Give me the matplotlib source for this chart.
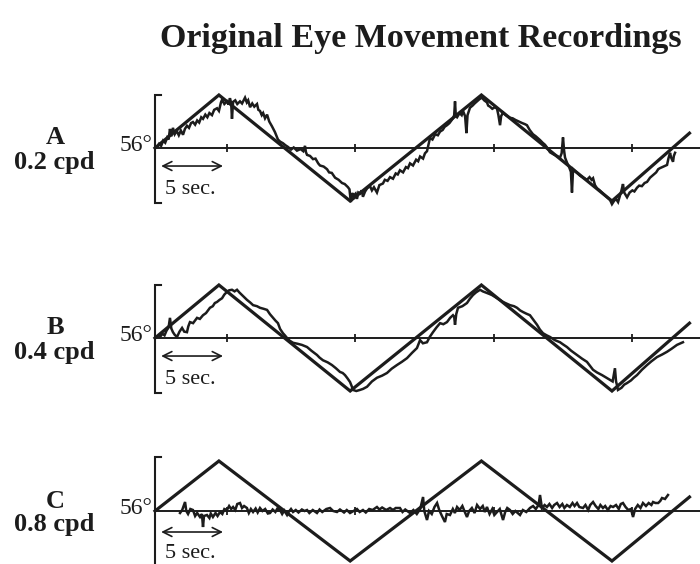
import matplotlib
matplotlib.use("Agg")
import matplotlib.pyplot as plt

plt.rcParams['font.family'] = ['Liberation Serif', 'DejaVu Serif']

INK = '#1c1c1c'

# stimulus (triangle wave), time in seconds, position normalised to stimulus amplitude
stim_t = [0, 4.7, 14.35, 24.0, 33.6, 39.3]
stim_y = [0, 1, -1, 1, -1, 0.28]

tick_t = [5.3, 14.7, 24.9, 35.1]

# eye traces
a_t = [0.15, 0.3, 0.45, 0.6, 0.75, 0.9, 1.0, 1.1, 1.2, 1.32, 1.45, 1.6, 1.75, 1.9,
       2.06, 2.2, 2.35, 2.5, 2.65, 2.79, 2.95, 3.1, 3.25, 3.4, 3.53, 3.7, 3.85, 4.0,
       4.19, 4.35, 4.56, 4.7, 4.85, 4.93, 5.1, 5.29, 5.4, 5.51, 5.6, 5.66, 5.74, 5.9,
       6.05, 6.25, 6.4, 6.62, 6.75, 6.85, 6.99, 7.15, 7.3, 7.5, 7.6, 7.72, 7.85, 7.95,
       8.09, 8.24, 8.4, 8.6, 8.72, 8.82, 8.95, 9.04, 9.2, 9.41, 9.6, 9.78, 10.0, 10.2,
       10.44, 10.7, 10.9, 11.03, 11.1, 11.18, 11.4, 11.62, 11.8, 12.0, 12.13, 12.4,
       12.65, 12.8, 13.0, 13.24, 13.5, 13.75, 13.95, 14.19, 14.3, 14.4, 14.5, 14.6,
       14.75, 14.85, 14.95, 15.07, 15.2, 15.29, 15.45, 15.6, 15.81, 15.95, 16.1, 16.32,
       16.5, 16.76, 16.9, 17.1, 17.28, 17.5, 17.7, 17.85, 18.01, 18.24, 18.45, 18.6,
       18.75, 18.97, 19.2, 19.35, 19.49, 19.71, 19.85, 20.0, 20.1, 20.22, 20.4, 20.6,
       20.8, 20.96, 21.15, 21.3, 21.47, 21.65, 21.8, 21.91, 22.0, 22.06, 22.12, 22.21,
       22.4, 22.55, 22.65, 22.8, 22.9, 22.98, 23.16, 23.35, 23.5, 23.68, 23.85, 24.04,
       24.2, 24.41, 24.5, 24.63, 24.8, 25.0, 25.15, 25.25, 25.37, 25.45, 25.59, 25.8,
       26.1, 26.3, 26.5, 26.84, 27.0, 27.2, 27.35, 27.55, 27.79, 28.0, 28.31, 28.5,
       28.68, 28.85, 29.04, 29.3, 29.55, 29.78, 29.9, 30.0, 30.08, 30.15, 30.3, 30.45,
       30.58, 30.66, 30.74, 30.9, 31.1, 31.25, 31.5, 31.76, 31.95, 32.1, 32.21, 32.35,
       32.5, 32.7, 32.94, 33.2, 33.46, 33.6, 33.75, 33.9, 34.05, 34.19, 34.3, 34.41,
       34.5, 34.71, 34.9, 35.1, 35.25, 35.44, 35.6, 35.8, 36.0, 36.18, 36.4, 36.62,
       36.85, 37.0, 37.13, 37.4, 37.65, 37.75, 37.87, 37.95, 38.09, 38.15, 38.24]
a_y = [0.02, 0.08, 0.04, 0.14, 0.1, 0.2, 0.16, 0.36, 0.22, 0.38, 0.26, 0.32, 0.24, 0.33,
       0.25, 0.36, 0.42, 0.38, 0.47, 0.49, 0.44, 0.52, 0.48, 0.58, 0.55, 0.63, 0.58, 0.66,
       0.62, 0.72, 0.75, 0.7, 0.86, 0.91, 0.83, 0.88, 0.82, 0.94, 0.85, 0.55, 0.87, 0.9,
       0.83, 0.88, 0.84, 0.95, 0.86, 0.9, 0.77, 0.84, 0.78, 0.83, 0.72, 0.7, 0.62, 0.66,
       0.56, 0.63, 0.5, 0.41, 0.35, 0.3, 0.22, 0.16, 0.12, 0.09, 0.05, 0.02, -0.03, 0.01,
       -0.05, -0.02, -0.06, 0.04, -0.08, -0.13, -0.15, -0.21, -0.2, -0.29, -0.33, -0.35,
       -0.4, -0.46, -0.47, -0.56, -0.6, -0.66, -0.68, -0.74, -0.78, -1.02, -0.85, -0.9,
       -0.86, -0.96, -0.84, -0.86, -0.8, -0.92, -0.82, -0.76, -0.72, -0.8, -0.74, -0.84,
       -0.7, -0.67, -0.6, -0.62, -0.55, -0.58, -0.48, -0.5, -0.42, -0.46, -0.36, -0.38,
       -0.29, -0.33, -0.22, -0.25, -0.16, -0.2, -0.1, -0.06, 0.05, 0.19, 0.16, 0.26,
       0.24, 0.31, 0.34, 0.4, 0.43, 0.47, 0.52, 0.56, 0.62, 0.88, 0.6, 0.58,
       0.66, 0.62, 0.7, 0.6, 0.28, 0.62, 0.76, 0.8, 0.84, 0.88, 0.92, 0.95,
       0.9, 0.86, 0.8, 0.78, 0.74, 0.77, 0.74, 0.62, 0.43, 0.6, 0.67, 0.62,
       0.57, 0.56, 0.53, 0.49, 0.47, 0.45, 0.43, 0.34, 0.26, 0.22, 0.15, 0.1,
       0.06, 0.0, -0.08, -0.12, -0.15, -0.18, -0.1, 0.2, -0.05, -0.18, -0.28, -0.36,
       -0.45, -0.84, -0.4, -0.44, -0.48, -0.52, -0.56, -0.6, -0.55, -0.6, -0.57, -0.7,
       -0.76, -0.8, -0.86, -0.92, -0.98, -1.06, -1.0, -0.96, -1.02, -0.9, -0.8, -0.68,
       -0.84, -0.93, -0.84, -0.8, -0.82, -0.75, -0.71, -0.72, -0.66, -0.64, -0.56, -0.51,
       -0.46, -0.4, -0.38, -0.35, -0.32, -0.2, -0.09, -0.18, -0.26, -0.15, -0.09]

b_t = [0.37, 0.55, 0.7, 0.85, 1.0, 1.10, 1.2, 1.32, 1.45, 1.62, 1.8, 1.99, 2.15, 2.35,
       2.45, 2.57, 2.8, 3.09, 3.3, 3.53, 3.75, 4.04, 4.25, 4.4, 4.56, 4.75, 4.93, 5.1,
       5.29, 5.45, 5.66, 5.85, 6.03, 6.2, 6.40, 6.6, 6.76, 7.0, 7.21, 7.5, 7.72, 8.0,
       8.24, 8.45, 8.68, 8.85, 9.04, 9.2, 9.41, 9.55, 9.71, 9.9, 10.15, 10.5, 10.8,
       11.18, 11.5, 11.91, 12.1, 12.35, 12.7, 13.01, 13.3, 13.60, 13.8, 13.97, 14.15,
       14.34, 14.45, 14.56, 14.8, 15.07, 15.3, 15.59, 15.95, 16.32, 16.7, 17.06, 17.4,
       17.79, 18.15, 18.53, 18.9, 19.26, 19.49, 19.7, 20.0, 20.2, 20.44, 20.7, 20.96,
       21.2, 21.47, 21.7, 21.91, 22.0, 22.06, 22.15, 22.28, 22.6, 22.94, 23.15, 23.38,
       23.6, 23.90, 24.1, 24.41, 24.6, 24.78, 25.15, 25.4, 25.59, 25.85, 26.10, 26.4,
       26.62, 26.85, 27.06, 27.3, 27.57, 27.8, 28.09, 28.3, 28.53, 28.8, 29.04, 29.4,
       29.78, 30.0, 30.29, 30.6, 31.03, 31.4, 31.76, 32.0, 32.21, 32.5, 32.87, 33.2,
       33.46, 33.65, 33.82, 33.9, 33.97, 34.04, 34.3, 34.5, 34.71, 35.0, 35.2, 35.44,
       35.8, 36.18, 36.5, 36.91, 37.3, 37.65, 38.0, 38.38, 38.82]
b_y = [0.02, 0.08, 0.05, 0.14, 0.2, 0.38, 0.18, 0.11, 0.06, 0.02, 0.12, 0.19, 0.12, 0.11,
       0.22, 0.3, 0.28, 0.38, 0.36, 0.43, 0.47, 0.57, 0.6, 0.66, 0.68, 0.72, 0.75, 0.82,
       0.87, 0.9, 0.91, 0.88, 0.91, 0.86, 0.81, 0.76, 0.72, 0.67, 0.62, 0.6, 0.57, 0.55,
       0.53, 0.45, 0.38, 0.33, 0.28, 0.17, 0.09, 0.05, 0.0, -0.05, -0.09, -0.11, -0.13,
       -0.17, -0.24, -0.32, -0.37, -0.42, -0.46, -0.51, -0.57, -0.64, -0.66, -0.7, -0.76,
       -0.83, -0.9, -0.98, -1.0, -0.98, -0.96, -0.92, -0.82, -0.75, -0.71, -0.66, -0.58,
       -0.51, -0.45, -0.38, -0.28, -0.19, -0.04, -0.1, -0.08, 0.02, 0.11, 0.2, 0.28,
       0.26, 0.3, 0.38, 0.43, 0.4, 0.25, 0.45, 0.57, 0.6, 0.66, 0.74, 0.81,
       0.86, 0.91, 0.88, 0.85, 0.83, 0.81, 0.75, 0.71, 0.68, 0.65, 0.62, 0.6,
       0.57, 0.52, 0.49, 0.46, 0.43, 0.35, 0.25, 0.16, 0.09, 0.05, 0.02, -0.04,
       -0.08, -0.12, -0.17, -0.24, -0.32, -0.39, -0.45, -0.53, -0.6, -0.65, -0.7, -0.75,
       -0.79, -0.82, -0.57, -0.82, -0.89, -0.98, -0.94, -0.88, -0.85, -0.8, -0.75, -0.7,
       -0.6, -0.51, -0.44, -0.36, -0.31, -0.26, -0.2, -0.13, -0.08]

c_t = [1.84, 2.0, 2.21, 2.3, 2.43, 2.6, 2.79, 2.95, 3.1, 3.31, 3.45, 3.53, 3.6, 3.82,
       4.0, 4.1, 4.26, 4.45, 4.6, 4.78, 4.95, 5.1, 5.29, 5.45, 5.6, 5.74, 5.9, 6.05,
       6.25, 6.4, 6.55, 6.76, 6.9, 7.05, 7.21, 7.4, 7.55, 7.72, 7.9, 8.1, 8.3, 8.46,
       8.65, 8.85, 9.0, 9.19, 9.35, 9.5, 9.71, 9.85, 10.0, 10.15, 10.35, 10.55, 10.8,
       11.0, 11.18, 11.35, 11.6, 11.91, 12.1, 12.3, 12.6, 12.87, 13.1, 13.38, 13.6,
       13.9, 14.1, 14.34, 14.6, 14.85, 15.05, 15.29, 15.5, 15.75, 16.0, 16.32, 16.5,
       16.7, 17.0, 17.28, 17.5, 17.7, 18.01, 18.2, 18.4, 18.75, 19.0, 19.25, 19.5,
       19.71, 19.8, 20.0, 20.15, 20.35, 20.55, 20.74, 20.9, 21.1, 21.32, 21.45, 21.69,
       21.9, 22.05, 22.21, 22.4, 22.6, 22.75, 22.94, 23.1, 23.3, 23.5, 23.68, 23.9,
       24.1, 24.25, 24.41, 24.6, 24.8, 24.95, 25.15, 25.35, 25.59, 25.75, 25.9, 26.10,
       26.3, 26.5, 26.84, 27.05, 27.3, 27.57, 27.8, 28.0, 28.2, 28.31, 28.45, 28.65,
       28.82, 29.0, 29.2, 29.35, 29.56, 29.75, 29.95, 30.1, 30.29, 30.5, 30.7, 30.85,
       31.03, 31.2, 31.47, 31.65, 31.85, 32.0, 32.21, 32.4, 32.6, 32.75, 32.94, 33.1,
       33.3, 33.5, 33.68, 33.9, 34.1, 34.25, 34.41, 34.6, 34.8, 35.0, 35.15, 35.3,
       35.5, 35.7, 35.88, 36.1, 36.3, 36.5, 36.62, 36.8, 37.0, 37.15, 37.28, 37.5, 37.72]
c_y = [-0.04, 0.02, 0.18, 0.0, -0.06, 0.04, 0.02, -0.1, -0.04, -0.12, -0.06, -0.32, -0.1,
       -0.08, -0.14, -0.05, -0.12, -0.04, -0.1, -0.02, -0.06, 0.04, 0.02, 0.1, 0.04, 0.08,
       0.02, 0.14, 0.16, 0.06, 0.1, 0.06, -0.04, 0.04, -0.02, 0.05, -0.03, 0.06, 0.0,
       0.04, -0.05, -0.04, 0.03, -0.02, 0.05, 0.02, -0.06, 0.01, -0.08, -0.01, 0.04,
       -0.02, 0.02, -0.03, 0.03, 0.0, 0.02, -0.04, 0.02, -0.04, 0.03, -0.02, 0.04, 0.06,
       0.0, -0.02, 0.03, -0.03, 0.02, -0.04, 0.0, 0.04, -0.02, 0.02, -0.03, 0.04, 0.02,
       0.08, 0.03, 0.07, 0.02, 0.06, 0.02, 0.06, 0.06, -0.02, 0.03, -0.04, 0.02, -0.06,
       0.04, 0.28, 0.0, -0.18, 0.0, -0.06, 0.08, 0.16, 0.02, -0.1, -0.22, -0.06, -0.08,
       0.04, -0.04, 0.08, 0.02, 0.1, 0.0, -0.12, 0.0, 0.06, -0.04, 0.12, 0.04, 0.1,
       -0.02, 0.08, -0.06, 0.04, -0.08, -0.02, 0.04, -0.18, -0.02, 0.06, 0.02, -0.06,
       0.0, -0.08, 0.02, -0.02, 0.06, 0.1, 0.04, 0.12, 0.32, 0.06, 0.12, 0.08, 0.14,
       0.06, 0.12, 0.16, 0.08, 0.14, 0.06, 0.12, 0.08, 0.16, 0.1, 0.16, 0.08, 0.06,
       0.12, 0.02, 0.12, 0.18, 0.1, 0.04, 0.12, 0.06, 0.1, 0.02, 0.1, 0.08, 0.12, 0.04,
       0.14, 0.16, 0.08, 0.02, 0.04, -0.12, 0.04, 0.12, 0.06, 0.16, 0.1, 0.16, 0.12,
       0.18, 0.16, 0.16, 0.2, 0.26, 0.24, 0.32]

letters = ['A', 'B', 'C']
freqs = ['0.2 cpd', '0.4 cpd', '0.8 cpd']
traces = [(a_t, a_y), (b_t, b_y), (c_t, c_y)]

W, H = 700, 564
fig = plt.figure(figsize=(7, 5.64), dpi=100)
fig.patch.set_facecolor('white')

# panel layout in pixels: centre line y, amplitude px, bracket ends, arrow/text y
panels = [
    dict(cy=148, amp=53, top=1.0, bot=-1.04, arr=-0.34, txt=-0.79),
    dict(cy=338, amp=53, top=1.0, bot=-1.04, arr=-0.34, txt=-0.79),
    dict(cy=511, amp=50, top=1.08, bot=-1.4, arr=-0.42, txt=-0.86),
]

px_per_s = 13.6
x0_px = 155
left_px = 140
t_left = (left_px - x0_px) / px_per_s
t_right = (W - x0_px) / px_per_s
ylim = 1.35

for i, p in enumerate(panels):
    h_px = 2 * ylim * p['amp']
    bottom_px = p['cy'] + h_px / 2
    ax = fig.add_axes([left_px / W, 1 - bottom_px / H, (W - left_px) / W, h_px / H])
    ax.set_xlim(t_left, t_right)
    ax.set_ylim(-ylim, ylim)
    ax.axis('off')

    # bracket
    ax.plot([0.45, 0, 0, 0.45], [p['top'], p['top'], p['bot'], p['bot']],
            color=INK, lw=1.5, solid_joinstyle='miter', clip_on=False)
    # baseline and ticks
    ax.plot([0, t_right], [0, 0], color=INK, lw=1.4)
    ax.vlines(tick_t, -0.08, 0.08, color=INK, lw=1.3)

    # stimulus
    ax.plot(stim_t, stim_y, color=INK, lw=2.3, solid_joinstyle='miter')
    # eye trace
    tt, yy = traces[i]
    ax.plot(tt, yy, color=INK, lw=1.8, solid_joinstyle='miter')

    # 5 sec scale
    ax.annotate('', xy=(5.0, p['arr']), xytext=(0.45, p['arr']),
                arrowprops=dict(arrowstyle='<->', lw=1.2, color=INK, mutation_scale=16,
                                shrinkA=0, shrinkB=0))
    ax.text(0.75, p['txt'], '5 sec.', fontsize=16, ha='left', va='center', color=INK)

    ax.text(-0.2, 0.04, '56°', fontsize=17, ha='right', va='center', color=INK,
            clip_on=False)

    fig.text(55 / W, 1 - (p['cy'] - 10) / H, letters[i], fontsize=19, fontweight='bold',
             ha='center', va='center', color=INK)
    fig.text(54 / W, 1 - (p['cy'] + 14) / H, freqs[i], fontsize=19, fontweight='bold',
             ha='center', va='center', color=INK)

fig.text(421 / W, 1 - 38 / H, 'Original Eye Movement Recordings', fontsize=24.5,
         fontweight='bold', ha='center', va='center', color=INK)

fig.savefig('out.png', dpi=100, facecolor='white')
